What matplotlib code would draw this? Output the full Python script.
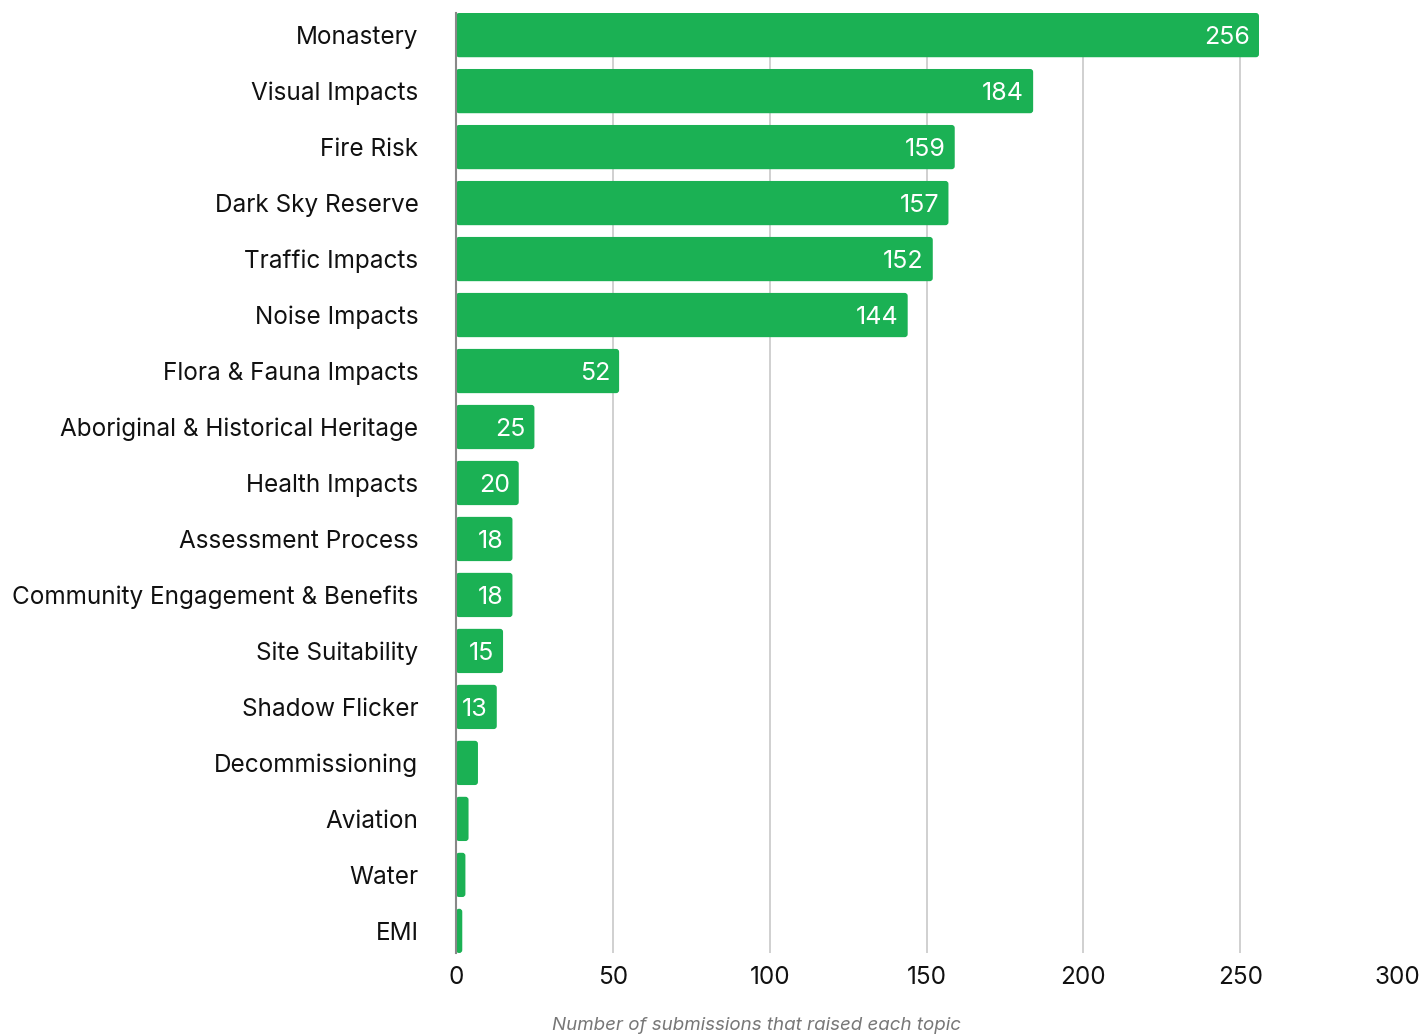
import matplotlib
matplotlib.use("Agg")
import matplotlib.pyplot as plt
from matplotlib.patches import FancyBboxPatch

categories = ["Monastery", "Visual Impacts", "Fire Risk", "Dark Sky Reserve",
              "Traffic Impacts", "Noise Impacts", "Flora & Fauna Impacts",
              "Aboriginal & Historical Heritage", "Health Impacts",
              "Assessment Process", "Community Engagement & Benefits",
              "Site Suitability", "Shadow Flicker", "Decommissioning",
              "Aviation", "Water", "EMI"]
values = [256, 184, 159, 157, 152, 144, 52, 25, 20, 18, 18, 15, 13, 7, 4, 3, 2]
xticks = [0, 50, 100, 150, 200, 250, 300]
xlabel = "Number of submissions that raised each topic"

GREEN = "#1bb154"
plt.rcParams['font.family'] = ['Inter', 'DejaVu Sans']

fig = plt.figure(figsize=(14.24, 10.35), dpi=100)
top_px, bot_px = 13, 953
ax = fig.add_axes([456/1424, 1-bot_px/1035, (1397-456)/1424, (bot_px-top_px)/1035])

n = len(categories)
ypos = list(range(n))
bh = 0.79
bars = ax.barh(ypos, values, height=bh, color=GREEN)
ax.set_ylim(n-1+bh/2, -bh/2)
ax.set_xlim(0, 300)

# rounded bars
px_x = 300/(1397-456)
px_y = (n-1+bh)/(bot_px-top_px)
for b in bars:
    b.set_visible(False)
    x0, y0 = b.get_x(), b.get_y()
    w, h = b.get_width(), b.get_height()
    p = FancyBboxPatch((x0, y0), w, h,
                       boxstyle="round,pad=0,rounding_size=%f" % (3*px_x),
                       mutation_aspect=px_y/px_x, facecolor=GREEN,
                       edgecolor="none", zorder=2)
    ax.add_patch(p)

for y, v in zip(ypos, values):
    if v >= 10:
        ax.text(v - 9*px_x, y, str(v), ha="right", va="center_baseline",
                color="white", fontsize=18, zorder=3)

ax.set_yticks(ypos)
ax.set_yticklabels(categories, fontsize=17.5, color="#111111")
ax.tick_params(axis="y", length=0, pad=27)
ax.set_xticks(xticks)
ax.set_xticklabels([str(t) for t in xticks], fontsize=17.5, color="#111111")
ax.tick_params(axis="x", length=0, pad=9)

ax.grid(axis="x", color="#c8c8c8", linewidth=1.2, zorder=0)
ax.set_axisbelow(True)
gl = ax.get_xgridlines()
gl[0].set_visible(False)
gl[-1].set_visible(False)

for s in ["top", "right", "bottom"]:
    ax.spines[s].set_visible(False)
ax.spines["left"].set_color("#888888")
ax.spines["left"].set_linewidth(1.5)
ax.spines["left"].set_zorder(4)

fig.text(756/1424, 1-1026/1035, xlabel, ha="center", va="center",
         fontsize=13.5, style="italic", color="#777777")

fig.savefig("out.png", dpi=100)
